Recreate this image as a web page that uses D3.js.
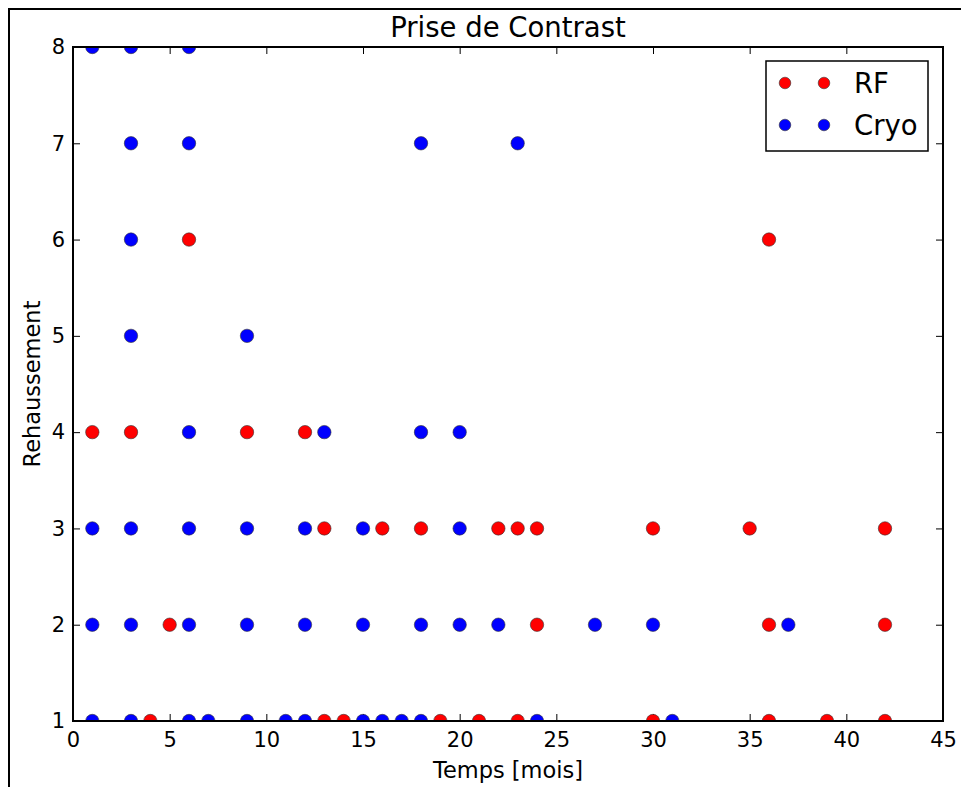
<!DOCTYPE html>
<html>
<head>
<meta charset="utf-8">
<script src="https://cdn.jsdelivr.net/npm/d3@7"></script>
<style>
  body { margin: 0; background: #fff; }
  text { font-family: "DejaVu Sans", sans-serif; }
</style>
</head>
<body>
<svg id="chart"></svg>
<script>
// data
const rfTime  = [4, 13, 14, 19, 21, 23, 30, 36, 39, 42,  5, 24, 36, 42,  13, 16, 18, 22, 23, 24, 30, 35, 42,  1, 3, 9, 12,  6, 36];
const rfScore = [1, 1, 1, 1, 1, 1, 1, 1, 1, 1,  2, 2, 2, 2,  3, 3, 3, 3, 3, 3, 3, 3, 3,  4, 4, 4, 4,  6, 6];

const cryoTime  = [1, 3, 6, 7, 9, 11, 12, 15, 16, 17, 18, 24, 31,
                   1, 3, 6, 9, 12, 15, 18, 20, 22, 27, 30, 37,
                   1, 3, 6, 9, 12, 15, 20,
                   6, 13, 18, 20,
                   3, 9,
                   3,
                   3, 6, 18, 23,
                   1, 3, 6];
const cryoScore = [1, 1, 1, 1, 1, 1, 1, 1, 1, 1, 1, 1, 1,
                   2, 2, 2, 2, 2, 2, 2, 2, 2, 2, 2, 2,
                   3, 3, 3, 3, 3, 3, 3,
                   4, 4, 4, 4,
                   5, 5,
                   6,
                   7, 7, 7, 7,
                   8, 8, 8];

const xTicks = [0, 5, 10, 15, 20, 25, 30, 35, 40, 45];
const yTicks = [1, 2, 3, 4, 5, 6, 7, 8];

const series = [
  { name: "RF", color: "#ff0000", pts: rfTime.map((t, i) => [t, rfScore[i]]) },
  { name: "Cryo", color: "#0000ff", pts: cryoTime.map((t, i) => [t, cryoScore[i]]) }
];

const width = 961, height = 787;
const margin = { left: 73, right: 18, top: 47, bottom: 66 };

const svg = d3.select("#chart").attr("width", width).attr("height", height);

// figure frame (only left/top edge visible)
svg.append("rect")
  .attr("x", 9).attr("y", 9)
  .attr("width", width + 20).attr("height", height + 20)
  .attr("fill", "none").attr("stroke", "#000").attr("stroke-width", 2);

const x = d3.scaleLinear().domain([0, 45]).range([margin.left, width - margin.right]);
const y = d3.scaleLinear().domain([1, 8]).range([height - margin.bottom, margin.top]);

svg.append("clipPath").attr("id", "plotclip")
  .append("rect")
  .attr("x", x(0)).attr("y", y(8))
  .attr("width", x(45) - x(0)).attr("height", y(1) - y(8));

// ticks, inward on all four sides
const tickLen = 7;
const fmt = d3.format("d");
const bottomAxis = d3.axisBottom(x).tickValues(xTicks).tickSize(-tickLen).tickPadding(11).tickFormat(fmt);
const topAxis = d3.axisTop(x).tickValues(xTicks).tickSize(-tickLen).tickFormat("");
const leftAxis = d3.axisLeft(y).tickValues(yTicks).tickSize(-tickLen).tickPadding(8).tickFormat(fmt);
const rightAxis = d3.axisRight(y).tickValues(yTicks).tickSize(-tickLen).tickFormat("");

function styleAxis(g) {
  g.select(".domain").remove();
  g.selectAll(".tick line").attr("stroke", "#000").attr("stroke-width", 1);
  g.selectAll(".tick text").attr("fill", "#000").style("font-size", "21px")
    .style("font-family", "'DejaVu Sans', sans-serif");
}

svg.append("g").attr("transform", `translate(0,${y(1)})`).call(bottomAxis).call(styleAxis)
  .selectAll(".tick text").attr("dy", "0.71em");
svg.append("g").attr("transform", `translate(0,${y(8)})`).call(topAxis).call(styleAxis);
svg.append("g").attr("transform", `translate(${x(0)},0)`).call(leftAxis).call(styleAxis);
svg.append("g").attr("transform", `translate(${x(45)},0)`).call(rightAxis).call(styleAxis);

// points, clipped to the axes box
const plot = svg.append("g").attr("clip-path", "url(#plotclip)");
series.forEach(s => {
  plot.append("g").selectAll("circle")
    .data(s.pts)
    .join("circle")
    .attr("cx", d => x(d[0]))
    .attr("cy", d => y(d[1]))
    .attr("r", 6.7)
    .attr("fill", s.color)
    .attr("stroke", "#333")
    .attr("stroke-width", 0.6);
});

// axes frame
svg.append("rect")
  .attr("x", x(0)).attr("y", y(8))
  .attr("width", x(45) - x(0)).attr("height", y(1) - y(8))
  .attr("fill", "none").attr("stroke", "#000").attr("stroke-width", 2);

// title and labels
svg.append("text")
  .attr("x", (x(0) + x(45)) / 2).attr("y", 37)
  .attr("text-anchor", "middle").style("font-size", "27.5px")
  .text("Prise de Contrast");

svg.append("text")
  .attr("x", (x(0) + x(45)) / 2).attr("y", 778)
  .attr("text-anchor", "middle").style("font-size", "22.5px")
  .text("Temps [mois]");

svg.append("text")
  .attr("transform", `translate(40,${(y(1) + y(8)) / 2}) rotate(-90)`)
  .attr("text-anchor", "middle").style("font-size", "22.5px")
  .text("Rehaussement");

// legend
const legend = svg.append("g").attr("transform", "translate(766,61)");
legend.append("rect")
  .attr("width", 162).attr("height", 90)
  .attr("fill", "#fff").attr("stroke", "#000").attr("stroke-width", 1.5);

series.forEach((s, i) => {
  const row = legend.append("g").attr("transform", `translate(0,${22 + i * 42})`);
  [19, 58].forEach(cx => {
    row.append("circle").attr("cx", cx).attr("cy", 0).attr("r", 5.8)
      .attr("fill", s.color).attr("stroke", "#333").attr("stroke-width", 0.6);
  });
  row.append("text").attr("x", 88).attr("y", 0).attr("dy", "0.36em")
    .style("font-size", "27.5px").text(s.name);
});
</script>
</body>
</html>
